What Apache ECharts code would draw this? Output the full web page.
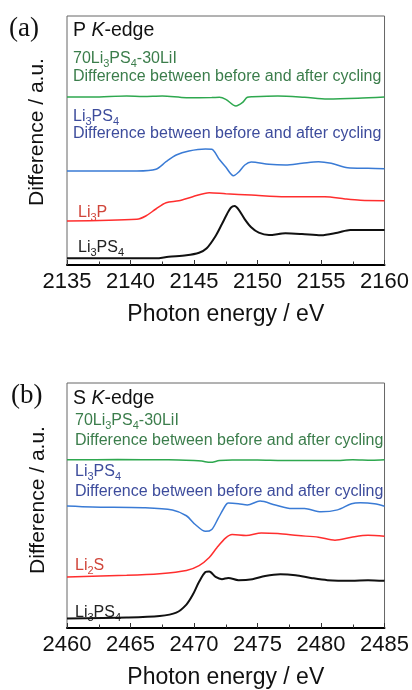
<!DOCTYPE html>
<html>
<head>
<meta charset="utf-8">
<script src="https://cdn.jsdelivr.net/npm/echarts@6/dist/echarts.min.js"></script>
<style>
    html, body { margin: 0; padding: 0; background: #fff; }
    #main-chart { width: 412px; height: 690px; }
</style>
</head>
<body>
<div id="main-chart"></div>
<script>
// (a) P K-edge, offsets in a.u. (stacked curves)
const pGreenX = [2135, 2137, 2139.7, 2141, 2142.5, 2144.4, 2146.4, 2147, 2147.5, 2148.3, 2148.8, 2149.2, 2149.6, 2151.6, 2153.7, 2155.5, 2157.9, 2160];
const pGreenY = [168, 168, 169, 168.5, 169, 167.3, 167.5, 167.7, 165.7, 159, 162.3, 167.7, 168.3, 169, 167.7, 166, 166.7, 168];
const pBlueX = [2135, 2140.5, 2142, 2142.8, 2143.6, 2144.6, 2145.9, 2146.4, 2147, 2147.5, 2148.1, 2148.5, 2149, 2149.5, 2150.9, 2152.2, 2153.5, 2154.8, 2155.8, 2157.1, 2158.7, 2160];
const pBlueY = [94, 94, 95.7, 103.3, 110, 114, 116, 115.7, 105.5, 98, 89.3, 92.7, 100, 103, 100.7, 100, 101.7, 103.3, 101.7, 97.3, 96.7, 96.3];
const pRedX = [2135, 2140.5, 2141.2, 2142, 2142.8, 2143.8, 2144.9, 2146.2, 2147.5, 2149.5, 2152.2, 2153.7, 2155.3, 2156.9, 2158.1, 2160];
const pRedY = [44, 45.7, 49, 56, 62.3, 64.3, 68.3, 72.3, 71.2, 70, 68.3, 68.3, 68.3, 66, 64.7, 64.3];
const pBlackX = [2135, 2142, 2143, 2144.4, 2145.4, 2146, 2146.7, 2147.2, 2147.6, 2147.9, 2148.2, 2148.5, 2149, 2149.5, 2150.1, 2150.9, 2152.2, 2153.5, 2155, 2156.3, 2157.3, 2160];
const pBlackY = [6.7, 6.7, 8.3, 9.7, 12.3, 16.7, 29, 41, 51, 57.3, 59, 55.7, 45.7, 37.7, 32.3, 30, 31.7, 31, 29.7, 32.3, 35, 35];

// (b) S K-edge
const sGreenX = [2460, 2464, 2468, 2470, 2470.6, 2471.3, 2472, 2473, 2475, 2477, 2479, 2481, 2482.5, 2484, 2485];
const sGreenY = [172.3, 172.5, 172.3, 171.5, 171, 169.7, 171.5, 172, 172, 171.5, 171.7, 171.5, 172.3, 171.8, 172.3];
const sBlueX = [2460, 2462, 2466, 2468.3, 2469.4, 2470.1, 2470.9, 2471.4, 2471.9, 2472.5, 2472.7, 2473.5, 2474.2, 2475.2, 2476.4, 2477.7, 2478.7, 2480, 2481.3, 2482.4, 2483.1, 2484.2, 2485];
const sBlueY = [125, 124, 123.3, 121, 115, 106, 99, 101, 112.3, 126, 128, 127.3, 126, 130, 126, 122.3, 122.3, 119, 121, 127.3, 128.3, 127.3, 124.7];
const sRedX = [2460, 2464.7, 2467.3, 2469.4, 2470.4, 2471.2, 2471.8, 2472.5, 2473, 2474.1, 2475.3, 2476.6, 2478.2, 2479.8, 2481.1, 2482.4, 2483.7, 2485];
const sRedY = [52.3, 54, 55.7, 59, 64, 72.3, 82.3, 92.3, 95.7, 94.7, 97.3, 96.7, 94.7, 93, 90, 93, 95, 94];
const sBlackX = [2460, 2464.7, 2467.3, 2468.6, 2469.4, 2469.9, 2470.4, 2470.9, 2471.2, 2471.7, 2472.2, 2472.7, 2473.5, 2474.6, 2475.6, 2476.8, 2478, 2479.2, 2480.5, 2482.4, 2483.7, 2485];
const sBlackY = [9.7, 10.7, 12.3, 15.7, 24, 34, 47.3, 57.3, 58, 52.3, 50, 51.3, 49, 50, 53.3, 55, 54, 51.3, 49, 48.3, 49, 48.3];

const xTicksA = [2135, 2160];
const xTicksB = [2460, 2485];

const FONT = '"Liberation Sans", Arial, sans-serif';
const lineColors = { green: '#2ea84f', blue: '#3a7bd5', red: '#ff2e2e', black: '#111111' };
const textColors = { green: '#3b7d4b', blue: '#3d4c9c', red: '#d0453a', black: '#222222' };

function zip(xs, ys) {
    return xs.map((x, i) => [x, ys[i]]);
}

function curve(name, xs, ys, color, idx, width) {
    return {
        name: name,
        type: 'line',
        xAxisIndex: idx,
        yAxisIndex: idx,
        data: zip(xs, ys),
        showSymbol: false,
        smooth: 0.3,
        lineStyle: { color: color, width: width || 1.5 },
        silent: true
    };
}

function xAxisOf(idx, ticks) {
    return {
        type: 'value',
        gridIndex: idx,
        min: ticks[0],
        max: ticks[1],
        interval: 5,
        axisLine: { lineStyle: { color: '#000', width: 2 } },
        axisTick: { inside: true, length: 5, lineStyle: { color: '#333' } },
        minorTick: { show: true, splitNumber: 2, length: 3.5, lineStyle: { color: '#333' } },
        splitLine: { show: false },
        axisLabel: { fontSize: 22, color: '#111', fontFamily: FONT, margin: 6, formatter: v => String(v) },
        name: 'Photon energy / eV',
        nameLocation: 'middle',
        nameGap: 38,
        nameTextStyle: { fontSize: 23, color: '#111', fontFamily: FONT }
    };
}

const rich = {
    n: { fontSize: 16, fontFamily: FONT, lineHeight: 20 },
    s: { fontSize: 11, fontFamily: FONT, lineHeight: 11, verticalAlign: 'bottom' },
    big: { fontSize: 19.5, fontFamily: FONT, lineHeight: 22 },
    bigi: { fontSize: 19.5, fontFamily: FONT, fontStyle: 'italic', lineHeight: 22 }
};

function label(x, y, text, color) {
    return {
        type: 'text',
        x: x,
        y: y,
        silent: true,
        style: { text: text, rich: rich, fill: color, verticalAlign: 'middle', align: 'left' }
    };
}

function yTitle(x, y) {
    return {
        type: 'text',
        x: x,
        y: y,
        rotation: Math.PI / 2,
        silent: true,
        style: { text: 'Difference / a.u.', font: '21px ' + FONT, fill: '#111', align: 'center', verticalAlign: 'middle' }
    };
}

const li3ps4 = '{n|Li}{s|3}{n|PS}{s|4}';
const mix = '{n|70Li}{s|3}{n|PS}{s|4}{n|-30LiI}';
const diff = '{n|Difference between before and after cycling}';

const option = {
    animation: false,
    backgroundColor: '#fff',
    grid: [
        { left: 67, top: 16, width: 320, height: 249, show: true, borderColor: '#666', borderWidth: 1 },
        { left: 67, top: 383, width: 320, height: 251, show: true, borderColor: '#666', borderWidth: 1 }
    ],
    xAxis: [xAxisOf(0, xTicksA), xAxisOf(1, xTicksB)],
    yAxis: [
        { type: 'value', gridIndex: 0, min: 0, max: 249, show: false },
        { type: 'value', gridIndex: 1, min: 0, max: 251, show: false }
    ],
    series: [
        curve('P 70Li3PS4-30LiI diff', pGreenX, pGreenY, lineColors.green, 0),
        curve('P Li3PS4 diff', pBlueX, pBlueY, lineColors.blue, 0),
        curve('Li3P', pRedX, pRedY, lineColors.red, 0),
        curve('P Li3PS4', pBlackX, pBlackY, lineColors.black, 0, 2),
        curve('S 70Li3PS4-30LiI diff', sGreenX, sGreenY, lineColors.green, 1),
        curve('S Li3PS4 diff', sBlueX, sBlueY, lineColors.blue, 1),
        curve('Li2S', sRedX, sRedY, lineColors.red, 1),
        curve('S Li3PS4', sBlackX, sBlackY, lineColors.black, 1, 2)
    ],
    graphic: [
        { type: 'text', x: 9, y: 29, silent: true,
          style: { text: '(a)', font: '27px "Liberation Serif", "Times New Roman", serif', fill: '#111', verticalAlign: 'middle' } },
        { type: 'text', x: 11, y: 396, silent: true,
          style: { text: '(b)', font: '27px "Liberation Serif", "Times New Roman", serif', fill: '#111', verticalAlign: 'middle' } },
        yTitle(37, 132),
        yTitle(38, 500),
        label(73, 31, '{big|P }{bigi|K}{big|-edge}', '#111'),
        label(73, 59, mix, textColors.green),
        label(73, 77, diff, textColors.green),
        label(73, 117, li3ps4, textColors.blue),
        label(73, 134, diff, textColors.blue),
        label(78, 213, '{n|Li}{s|3}{n|P}', textColors.red),
        label(78, 248, li3ps4, textColors.black),
        label(73, 399, '{big|S }{bigi|K}{big|-edge}', '#111'),
        label(75, 421, mix, textColors.green),
        label(75, 441, diff, textColors.green),
        label(75, 472, li3ps4, textColors.blue),
        label(75, 492, diff, textColors.blue),
        label(75, 566, '{n|Li}{s|2}{n|S}', textColors.red),
        label(75, 613, li3ps4, textColors.black)
    ]
};

const mainChart = echarts.init(document.getElementById('main-chart'));
mainChart.setOption(option);
</script>
</body>
</html>
